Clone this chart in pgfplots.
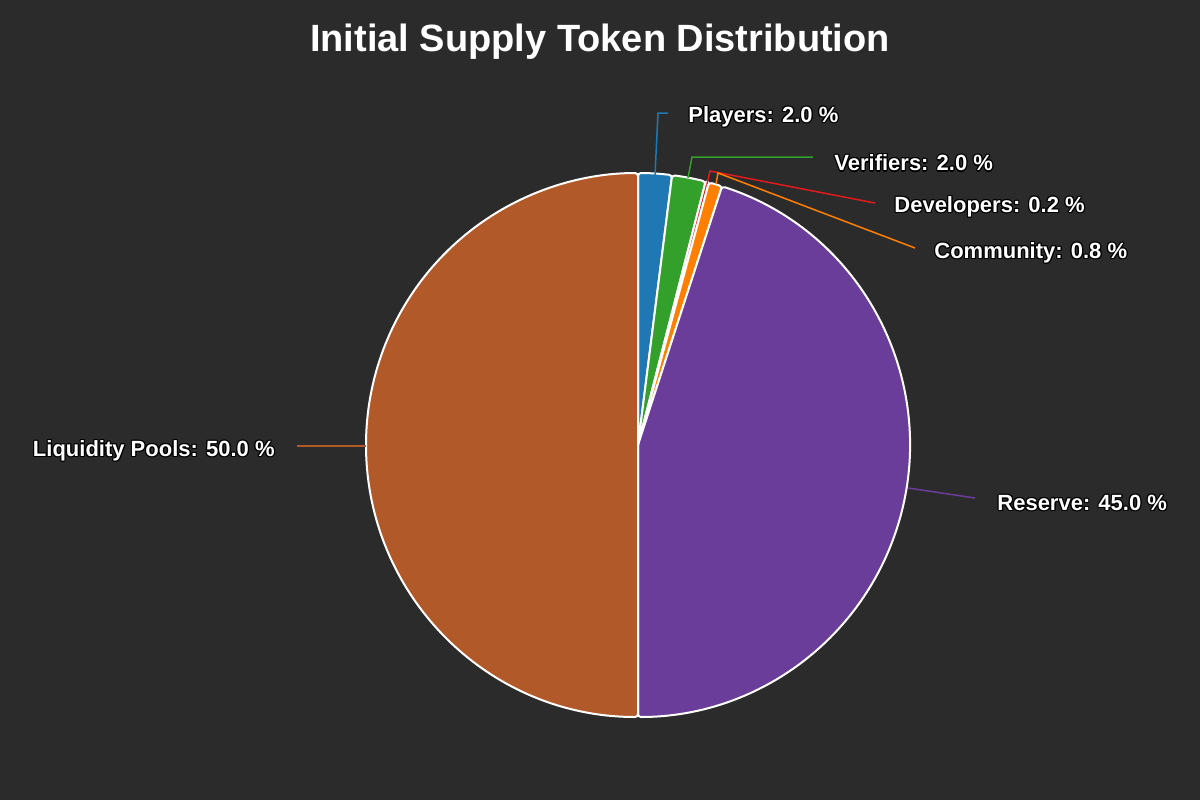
\documentclass[border=0pt]{standalone}
\usepackage{fontspec}
\setmainfont{Liberation Sans}
\usepackage{pgfplots}
\pgfplotsset{compat=1.18}
\definecolor{bg}{HTML}{2B2B2B}
\definecolor{cPlay}{HTML}{1F78B4}
\definecolor{cVer}{HTML}{33A02C}
\definecolor{cDev}{HTML}{E31A1C}
\definecolor{cCom}{HTML}{FF7F00}
\definecolor{cRes}{HTML}{6A3D9A}
\definecolor{cLiq}{HTML}{B15928}

\tikzset{lbl/.style={font=\bfseries\fontsize{11}{13}\selectfont, inner sep=0pt}}
% white label with a thin dark outline
\newcommand{\olabel}[3]{%
  \node[lbl, anchor=#2, text=black, xshift=0.6pt] at (#1) {#3};
  \node[lbl, anchor=#2, text=black, xshift=-0.6pt] at (#1) {#3};
  \node[lbl, anchor=#2, text=black, yshift=0.6pt] at (#1) {#3};
  \node[lbl, anchor=#2, text=black, yshift=-0.6pt] at (#1) {#3};
  \node[lbl, anchor=#2, text=black, xshift=0.45pt, yshift=0.45pt] at (#1) {#3};
  \node[lbl, anchor=#2, text=black, xshift=-0.45pt, yshift=0.45pt] at (#1) {#3};
  \node[lbl, anchor=#2, text=black, xshift=0.45pt, yshift=-0.45pt] at (#1) {#3};
  \node[lbl, anchor=#2, text=black, xshift=-0.45pt, yshift=-0.45pt] at (#1) {#3};
  \node[lbl, anchor=#2, text=white] at (#1) {#3};
}

\begin{document}
\begin{tikzpicture}
\begin{axis}[
  scale only axis, width=600pt, height=400pt,
  xmin=0, xmax=1200, ymin=0, ymax=800,
  y dir=reverse, hide axis, clip=false,
]
\fill[bg] (axis cs:0,0) rectangle (axis cs:1200,800);

% slices, clockwise from the top: value (%) / colour
\gdef\sa{90}
\foreach \v/\c in {2.0/cPlay, 2.0/cVer, 0.2/cDev, 0.8/cCom, 45.0/cRes, 50.0/cLiq} {
  \pgfmathsetmacro{\ea}{\sa-3.6*\v}
  \edef\tmp{\noexpand\filldraw[fill=\c, draw=white, line width=1pt, line join=round, rounded corners=1.5pt]
    (axis cs:638,445) -- ++(\sa:136pt) arc[start angle=\sa, end angle=\ea, radius=136pt] -- cycle;}
  \tmp
  \global\let\sa\ea
}

% leader lines
\draw[cPlay, line width=0.75pt] (axis cs:655,175) -- (axis cs:658,113) -- (axis cs:668,113);
\draw[cVer, line width=0.75pt] (axis cs:688,178) -- (axis cs:692,157) -- (axis cs:813,157);
\draw[cDev, line width=0.75pt] (axis cs:707,184) -- (axis cs:710,171) -- (axis cs:875,203);
\draw[cCom, line width=0.75pt] (axis cs:716,184) -- (axis cs:718,173) -- (axis cs:915,248);
\draw[cRes, line width=0.75pt] (axis cs:908,488) -- (axis cs:975,498);
\draw[cLiq, line width=0.75pt] (axis cs:366,446) -- (axis cs:297,446);

% labels
\olabel{axis cs:688,117}{west}{Players: 2.0 \%}
\olabel{axis cs:834,163}{west}{Verifiers: 2.0 \%}
\olabel{axis cs:894,207}{west}{Developers: 0.2 \%}
\olabel{axis cs:934,253}{west}{Community: 0.8 \%}
\olabel{axis cs:997,503}{west}{Reserve: 45.0 \%}
\olabel{axis cs:275,451}{east}{Liquidity Pools: 50.0 \%}

\node[text=white, font=\bfseries\fontsize{19}{23}\selectfont] at (axis cs:600,42) {Initial Supply Token Distribution};
\end{axis}
\end{tikzpicture}
\end{document}
